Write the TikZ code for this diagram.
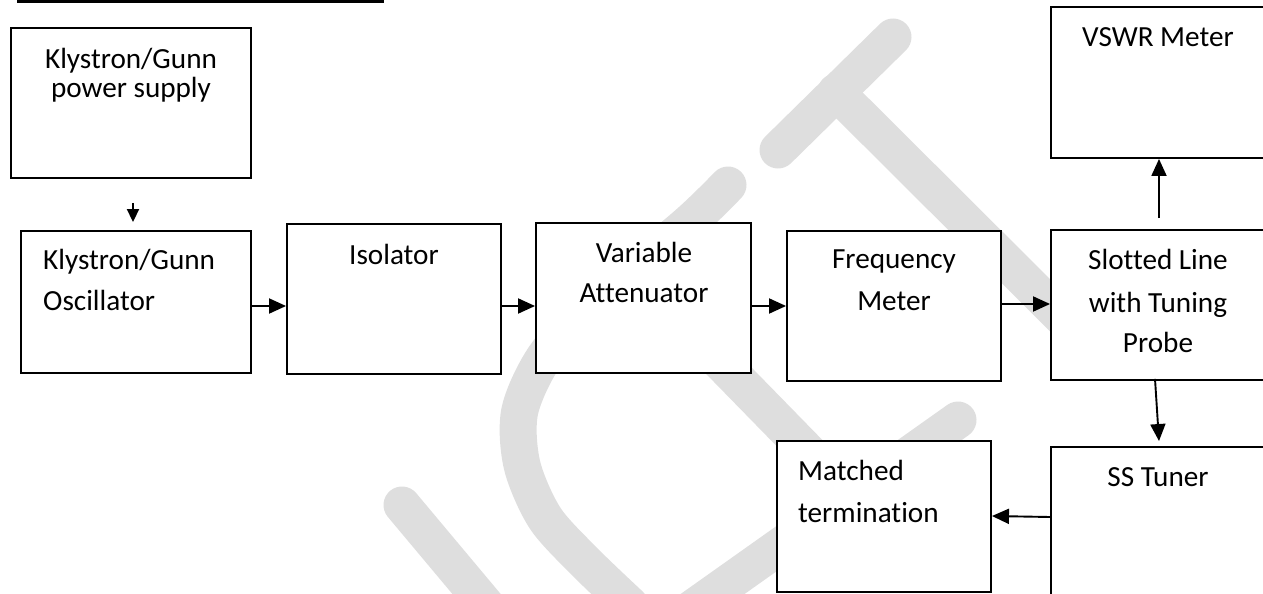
\documentclass[tikz,border=0pt]{standalone}
\usepackage{fontspec}
\setmainfont[Ligatures={NoCommon}]{Carlito}
\usetikzlibrary{arrows.meta}
\definecolor{wm}{RGB}{222,222,222}
\begin{document}
\begin{tikzpicture}[x=1pt,y=-1pt,
  box/.style n args={2}{draw=black, line width=1.9pt, fill=white, rectangle, inner sep=0pt, minimum width=#1, minimum height=#2},
  txt/.style={inner sep=0pt, font=\fontsize{29.2}{35}\selectfont},
  arr/.style={line width=1.9pt, -{Triangle[length=17pt,width=15pt]}},
  arrs/.style={line width=1.9pt, -{Triangle[length=13pt,width=12pt]}},
  wmark/.style={draw=wm, line width=37pt, line cap=round, line join=round}]
\useasboundingbox (0,0) rectangle (1263,594);
\clip (0,0) rectangle (1263,594);
% watermark
\draw[wmark] (778,150) -- (893,37);
\draw[wmark] (836,92) -- (1100,355);
\draw[wmark] plot[smooth] coordinates {(728,185) (690,222) (610,290) (548,352) (520,410) (522,465) (545,518) (585,562) (630,605)};
\draw[wmark] (650,290) -- (860,505);
\draw[wmark] (958,420) -- (690,610);
\draw[wmark] (402,505) -- (500,622);
\draw[wmark] (300,614) -- (330,650);
% heading underline
\draw[line width=3pt] (17,1.5) -- (384,1.5);
% boxes
\node[box={240pt}{150pt}] (ps)  at (131,103) {};
\node[box={230pt}{142pt}] (osc) at (136,302) {};
\node[box={214pt}{150pt}] (iso) at (394,299) {};
\node[box={215pt}{150pt}] (att) at (643.5,298) {};
\node[box={214pt}{150pt}] (frq) at (894,306) {};
\node[box={214pt}{150pt}] (slt) at (1158,305) {};
\node[box={214pt}{151pt}] (vsw) at (1158,82.5) {};
\node[box={214pt}{150pt}] (sst) at (1158,522) {};
\node[box={214pt}{151pt}] (mat) at (884,516.5) {};
% texts
\node[txt, anchor=base] (t1) at (131,68) {Klystron/Gunn};
\node[txt, anchor=base] (t2) at (131,97) {power supply};
\node[txt, anchor=base west] (t3) at (43,269) {Klystron/Gunn};
\node[txt, anchor=base west] (t4) at (43,310) {Oscillator};
\node[txt, anchor=base] (t5) at (394,264) {Isolator};
\node[txt, anchor=base] (t6) at (644,262) {Variable};
\node[txt, anchor=base] (t7) at (644,302) {Attenuator};
\node[txt, anchor=base] (t8) at (894,268) {Frequency};
\node[txt, anchor=base] (t9) at (894,310) {Meter};
\node[txt, anchor=base] (t10) at (1158,269) {Slotted Line};
\node[txt, anchor=base] (t11) at (1158,312) {with Tuning};
\node[txt, anchor=base] (t12) at (1158,352) {Probe};
\node[txt, anchor=base] (t13) at (1158,47) {VSWR Meter};
\node[txt, anchor=base] (t14) at (1158,486) {SS Tuner};
\node[txt, anchor=base west] (t15) at (798,480) {Matched};
\node[txt, anchor=base west] (t16) at (798,522) {termination};
% connectors
\draw[arrs] ([xshift=2pt,yshift=-24pt]ps.south) -- ([xshift=-3pt,yshift=8pt]osc.north);
\draw[arr] ([yshift=-4pt]osc.east) -- ([yshift=-7pt]iso.west);
\draw[arr] ([yshift=-7pt]iso.east) -- ([yshift=-8pt]att.west);
\draw[arr] ([yshift=-8pt]att.east) -- (frq.west);
\draw[arr] ([yshift=2pt]frq.east) -- ([yshift=1pt]slt.west);
\draw[arr] ([xshift=1pt,yshift=11pt]slt.north) -- ([xshift=1pt]vsw.south);
\draw[arr] ([xshift=-3pt,yshift=2pt]slt.south) -- ([xshift=1pt,yshift=5pt]sst.north);
\draw[arr] ([yshift=5pt]sst.west) -- ([yshift=0.5pt]mat.east);
\end{tikzpicture}
\end{document}
